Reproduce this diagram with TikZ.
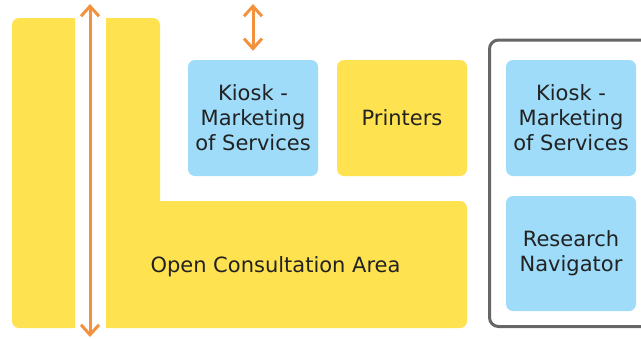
\documentclass[tikz,border=0pt]{standalone}
\usepackage{fontspec}
\setmainfont{DejaVu Sans}
\usepackage{xcolor}
\usetikzlibrary{arrows.meta}
\definecolor{zoneyellow}{HTML}{FFE24F}
\definecolor{zoneblue}{HTML}{9EDCF9}
\definecolor{flowarrow}{HTML}{F3923E}
\definecolor{framegray}{HTML}{666666}
\definecolor{labeltext}{HTML}{222222}
\tikzset{
  zonebox/.style={rounded corners=7pt,minimum width=130pt,minimum height=116pt,
    align=center,text=labeltext,font=\fontsize{21}{25}\selectfont,inner sep=0pt},
  kioskbox/.style={zonebox,fill=zoneblue},
  yellowbox/.style={zonebox,fill=zoneyellow},
  flow/.style={draw=flowarrow,line width=3pt,
    {Straight Barb[length=10pt,width=18pt,line width=3pt]}-{Straight Barb[length=10pt,width=18pt,line width=3pt]}}
}
\begin{document}
\begin{tikzpicture}[line join=round,x=1pt,y=-1pt]
\useasboundingbox (0,0) rectangle (641,338);
\clip (0,0) rectangle (641,338);
% left strip and L-shaped area
\fill[zoneyellow] (75,18) [rounded corners=7pt] -- (12,18) -- (12,328) [sharp corners] -- (75,328) -- cycle;
\fill[zoneyellow] (106,328) -- (106,18) [rounded corners=7pt] -- (160,18) [sharp corners] -- (160,201)
  [rounded corners=7pt] -- (467,201) -- (467,328) [sharp corners] -- (106,328) -- cycle;
\node[text=labeltext,font=\fontsize{21}{25}\selectfont] (open) at (275.5,267) {Open Consultation Area};
% boxes
\node[kioskbox] (kiosk) at (253,118) {Kiosk -\\Marketing\\of Services};
\node[yellowbox] (printers) at (402,118) {Printers};
% right frame
\draw[framegray,line width=3pt,rounded corners=9pt] (489.5,40) rectangle (660,326.5);
\node[kioskbox] (kiosktwo) at (571,118) {Kiosk -\\Marketing\\of Services};
\node[kioskbox,minimum height=115pt] (navigator) at (571,253.5) {Research\\Navigator};
% arrows
\coordinate (walltop) at (90,4);
\coordinate (wallbot) at (90,337);
\coordinate (kiosktop) at (253,4);
\draw[flow] (walltop) -- (wallbot);
\draw[flow,shorten >=9pt] (kiosktop) -- (kiosk.north);
\end{tikzpicture}
\end{document}
